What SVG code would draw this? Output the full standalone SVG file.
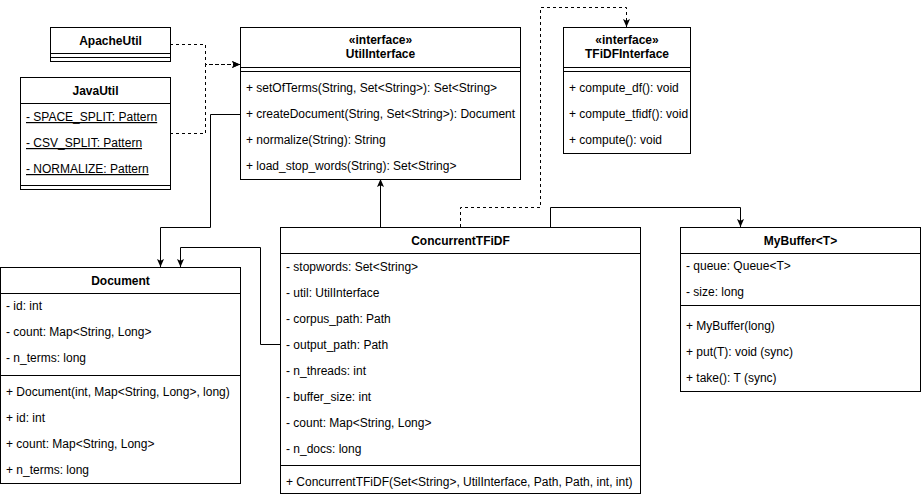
<svg xmlns="http://www.w3.org/2000/svg" width="921" height="498" viewBox="0 0 921 498">
  <style>
    .box { fill: #ffffff; stroke: #000000; stroke-width: 1; }
    .sep { fill: none; stroke: #000000; stroke-width: 1; }
    .title { font-family: "Liberation Sans", Arial, sans-serif; font-size: 12px; font-weight: bold; fill: #000000; text-anchor: middle; }
    .member { font-family: "Liberation Sans", Arial, sans-serif; font-size: 12px; fill: #000000; }
    .static { text-decoration: underline; }
    .edge { fill: none; stroke: #000000; stroke-width: 1; }
    .dashed { stroke-dasharray: 3 3; }
  </style>
  <defs>
    <marker id="arrow" viewBox="0 0 8 8" refX="8" refY="4" markerWidth="8" markerHeight="8" markerUnits="userSpaceOnUse" orient="auto">
      <path d="M0,0.5 L8,4 L0,7.5 L1.8,4 Z" fill="#000000" stroke="none"/>
    </marker>
  </defs>

  <rect width="921" height="498" fill="#ffffff"/>

  <!-- connectors -->
  <g id="connectors">
    <path class="edge dashed" d="M170,44.5 H205.5 V64.5 H240" marker-end="url(#arrow)"/>
    <path class="edge dashed" d="M170,133.5 H205.5 V64.5 H240" marker-end="url(#arrow)"/>
    <path class="edge" d="M240,114.5 H210.5 V227.5 H160.5 V267" marker-end="url(#arrow)"/>
    <path class="edge" d="M280,344.5 H260.5 V247.5 H180.5 V267" marker-end="url(#arrow)"/>
    <path class="edge" d="M380.5,227 V179" marker-end="url(#arrow)"/>
    <path class="edge dashed" d="M460.5,227 V207.5 H540.5 V7.5 H626.5 V27" marker-end="url(#arrow)"/>
    <path class="edge" d="M550.5,227 V207.5 H740.5 V227" marker-end="url(#arrow)"/>
  </g>

  <!-- ApacheUtil -->
  <g id="ApacheUtil">
    <rect class="box" x="50.5" y="27.5" width="120" height="34"/>
    <path class="sep" d="M50.5,53.5 H170.5 M50.5,57.5 H170.5"/>
    <text class="title" x="110.5" y="44.5">ApacheUtil</text>
  </g>

  <!-- JavaUtil -->
  <g id="JavaUtil">
    <rect class="box" x="20.5" y="77.5" width="150" height="112"/>
    <path class="sep" d="M20.5,103.5 H170.5 M20.5,185.5 H170.5"/>
    <text class="title" x="95.5" y="94.5">JavaUtil</text>
    <text class="member static" x="26" y="121">- SPACE_SPLIT: Pattern</text>
    <text class="member static" x="26" y="147">- CSV_SPLIT: Pattern</text>
    <text class="member static" x="26" y="173">- NORMALIZE: Pattern</text>
  </g>

  <!-- UtilInterface -->
  <g id="UtilInterface">
    <rect class="box" x="240.5" y="27.5" width="280" height="152"/>
    <path class="sep" d="M240.5,67.5 H520.5 M240.5,71.5 H520.5"/>
    <text class="title" x="380.5" y="44">«interface»</text>
    <text class="title" x="380.5" y="58">UtilInterface</text>
    <text class="member" x="246" y="92">+ setOfTerms(String, Set&lt;String&gt;): Set&lt;String&gt;</text>
    <text class="member" x="246" y="118">+ createDocument(String, Set&lt;String&gt;): Document</text>
    <text class="member" x="246" y="144">+ normalize(String): String</text>
    <text class="member" x="246" y="170">+ load_stop_words(String): Set&lt;String&gt;</text>
  </g>

  <!-- TFiDFInterface -->
  <g id="TFiDFInterface">
    <rect class="box" x="563.5" y="27.5" width="127" height="126"/>
    <path class="sep" d="M563.5,67.5 H690.5 M563.5,71.5 H690.5"/>
    <text class="title" x="627" y="44">«interface»</text>
    <text class="title" x="627" y="58">TFiDFInterface</text>
    <text class="member" x="569" y="92">+ compute_df(): void</text>
    <text class="member" x="569" y="118">+ compute_tfidf(): void</text>
    <text class="member" x="569" y="144">+ compute(): void</text>
  </g>

  <!-- Document -->
  <g id="Document">
    <rect class="box" x="0.5" y="267.5" width="240" height="216"/>
    <path class="sep" d="M0.5,293.5 H240.5 M0.5,375.5 H240.5"/>
    <text class="title" x="120.5" y="284.5">Document</text>
    <text class="member" x="6" y="310">- id: int</text>
    <text class="member" x="6" y="336">- count: Map&lt;String, Long&gt;</text>
    <text class="member" x="6" y="362">- n_terms: long</text>
    <text class="member" x="6" y="396">+ Document(int, Map&lt;String, Long&gt;, long)</text>
    <text class="member" x="6" y="422">+ id: int</text>
    <text class="member" x="6" y="448">+ count: Map&lt;String, Long&gt;</text>
    <text class="member" x="6" y="474">+ n_terms: long</text>
  </g>

  <!-- ConcurrentTFiDF -->
  <g id="ConcurrentTFiDF">
    <rect class="box" x="280.5" y="227.5" width="360" height="266"/>
    <path class="sep" d="M280.5,253.5 H640.5 M280.5,465.5 H640.5"/>
    <text class="title" x="460.5" y="244.5">ConcurrentTFiDF</text>
    <text class="member" x="286" y="271">- stopwords: Set&lt;String&gt;</text>
    <text class="member" x="286" y="297">- util: UtilInterface</text>
    <text class="member" x="286" y="323">- corpus_path: Path</text>
    <text class="member" x="286" y="349">- output_path: Path</text>
    <text class="member" x="286" y="375">- n_threads: int</text>
    <text class="member" x="286" y="401">- buffer_size: int</text>
    <text class="member" x="286" y="427">- count: Map&lt;String, Long&gt;</text>
    <text class="member" x="286" y="453">- n_docs: long</text>
    <text class="member" x="286" y="486">+ ConcurrentTFiDF(Set&lt;String&gt;, UtilInterface, Path, Path, int, int)</text>
  </g>

  <!-- MyBuffer<T> -->
  <g id="MyBuffer">
    <rect class="box" x="680.5" y="227.5" width="240" height="164"/>
    <path class="sep" d="M680.5,253.5 H920.5 M680.5,305.5 H920.5"/>
    <text class="title" x="800.5" y="244.5">MyBuffer&lt;T&gt;</text>
    <text class="member" x="686" y="270">- queue: Queue&lt;T&gt;</text>
    <text class="member" x="686" y="296">- size: long</text>
    <text class="member" x="686" y="330">+ MyBuffer(long)</text>
    <text class="member" x="686" y="356">+ put(T): void (sync)</text>
    <text class="member" x="686" y="382">+ take(): T (sync)</text>
  </g>
</svg>
